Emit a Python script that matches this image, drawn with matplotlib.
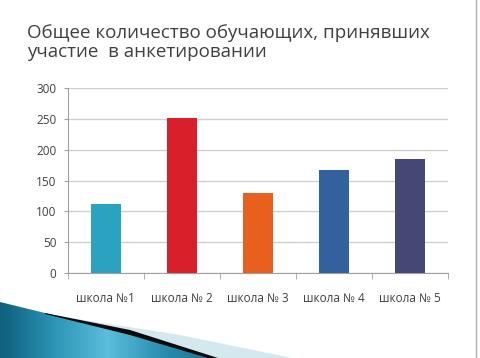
import matplotlib
matplotlib.use("Agg")
import matplotlib.pyplot as plt
import numpy as np
from matplotlib.patches import Polygon
from matplotlib.colors import LinearSegmentedColormap

categories = ["школа №1", "школа № 2", "школа № 3", "школа № 4", "школа № 5"]
values = [112, 252, 129, 167, 185]
colors = ["#2AA2C0", "#D91F2A", "#E8601E", "#33619E", "#454873"]
yticks = [0, 50, 100, 150, 200, 250, 300]
title = "Общее количество обучающих, принявших\nучастие  в анкетировании"

plt.rcParams['font.family'] = ['Open Sans', 'DejaVu Sans']

W, H = 480, 358
fig = plt.figure(figsize=(4.8, 3.58), dpi=100)
fig.patch.set_facecolor("white")

# background decoration axes in pixel coordinates
bg = fig.add_axes([0, 0, 1, 1], zorder=0)
bg.set_xlim(0, W)
bg.set_ylim(H, 0)
bg.axis("off")

teal_pts = [(0, 302), (45, 313), (130, 333), (212, 358), (0, 358)]
light_pts = [(58, 316), (180, 335), (292, 358), (217, 358), (130, 331), (58, 317)]
black_pts = [(45, 313), (130, 330), (218, 358), (208, 358), (130, 335), (45, 314)]

cmap = LinearSegmentedColormap.from_list("t", ["#0E5F7C", "#2C94B5", "#5BBEDB", "#2A8FB0", "#17728F"])
grad = np.tile(np.linspace(0, 1, 256), (10, 1))
img = bg.imshow(grad, extent=[0, 215, H, 300], cmap=cmap, aspect="auto", zorder=1)
tp = Polygon(teal_pts, closed=True, facecolor="none", edgecolor="none")
bg.add_patch(tp)
img.set_clip_path(tp)
bg.add_patch(Polygon(light_pts, closed=True, facecolor="#D3E8EF", edgecolor="none", zorder=2))
bg.add_patch(Polygon(black_pts, closed=True, facecolor="#0A0A0A", edgecolor="none", zorder=3))
bg.plot([476, 476], [0, H], color="#B0B0B0", lw=1)
bg.set_xlim(0, W)
bg.set_ylim(H, 0)

ax = fig.add_axes([67.7 / W, 1 - 273 / H, (448 - 67.7) / W, (273 - 88) / H], zorder=2)
ax.patch.set_alpha(0)
x = np.arange(len(categories))
ax.bar(x, values, width=0.4, color=colors, zorder=3)
ax.set_xlim(-0.5, len(categories) - 0.5)
ax.set_ylim(0, 300)
ax.set_yticks(yticks)
ax.set_yticklabels([str(v) for v in yticks], fontsize=8.5, color="#404040")
ax.set_xticks(x)
ax.set_xticklabels(categories, fontsize=8.5, color="#404040")
ax.tick_params(axis='x', length=0, pad=14)
ax.tick_params(axis='y', length=3, color="#A0A0A0", pad=5)
ax.set_xticks(np.arange(len(categories) + 1) - 0.5, minor=True)
ax.tick_params(axis='x', which='minor', length=4, color="#A0A0A0")
ax.grid(axis='y', color="#D0D0D0", lw=1, zorder=0)
for s in ["top", "right"]:
    ax.spines[s].set_visible(False)
ax.spines["left"].set_color("#A0A0A0")
ax.spines["bottom"].set_color("#A0A0A0")

fig.text(27 / W, 1 - 24 / H, title, fontsize=13.5, color="#404040",
         ha="left", va="top", linespacing=1.1, zorder=5)

fig.savefig("out.png", dpi=100)
